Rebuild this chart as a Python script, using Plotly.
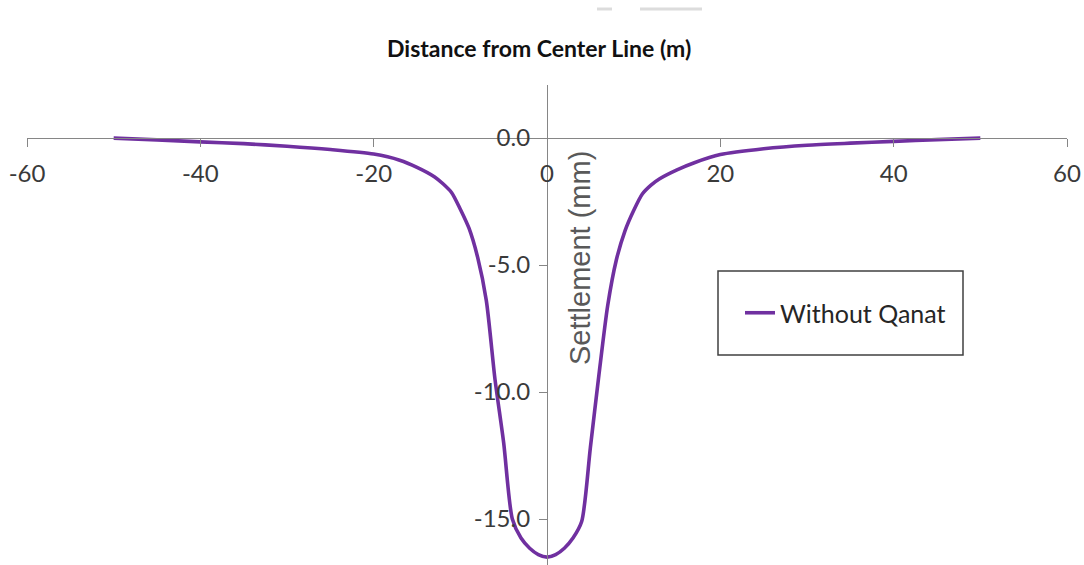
import plotly.graph_objects as go

# Surface settlement profile across the tunnel axis
distance = [-50, -45, -40, -35, -30, -25, -20, -17, -15, -13, -12, -11, -10, -9, -8, -7, -6, -5, -4, -3, -2, -1, 0,
            1, 2, 3, 4, 5, 6, 7, 8, 9, 10, 11, 12, 13, 15, 17, 20, 25, 30, 35, 40, 45, 50]
settlement = [0.0, -0.07, -0.15, -0.22, -0.32, -0.45, -0.63, -0.87, -1.15, -1.52, -1.8, -2.15, -2.8, -3.55,
              -4.7, -6.4, -9.5, -12.0, -15.0, -15.75, -16.15, -16.4, -16.5,
              -16.4, -16.15, -15.75, -15.1, -12.2, -9.3, -6.6, -4.8, -3.65, -2.85, -2.2, -1.85, -1.6,
              -1.25, -0.97, -0.65, -0.42, -0.28, -0.2, -0.13, -0.06, 0.0]
series_name = "Without Qanat"

x_ticks = [-60, -40, -20, 0, 20, 40, 60]
x_tick_text = ["-60", "-40", "-20", "0", "20", "40", "60"]
y_ticks = [0, -5, -10, -15]
y_tick_text = ["0.0", "-5.0", "-10.0", "-15.0"]

X_RANGE = [-60, 60]
Y_RANGE = [-16.81, 2.09]

W, H = 1084, 565
M_L, M_R, M_T, M_B = 27, 17, 85, 0
PW, PH = W - M_L - M_R, H - M_T - M_B


def px_x(px):
    return (px - M_L) / PW


def px_y(py):
    return (H - M_B - py) / PH


AXIS = "#868686"
TICK_FONT = dict(family="Lato", size=24, color="#3a3a3a")

fig = go.Figure()
fig.add_trace(go.Scatter(
    x=distance, y=settlement, mode="lines", name=series_name,
    line=dict(color="#7030A0", width=3.6, shape="spline", smoothing=0.7),
))

x_pos = (0 - Y_RANGE[0]) / (Y_RANGE[1] - Y_RANGE[0])
y_pos = (0 - X_RANGE[0]) / (X_RANGE[1] - X_RANGE[0])

fig.update_layout(
    width=W, height=H,
    margin=dict(l=M_L, r=M_R, t=M_T, b=M_B),
    paper_bgcolor="white", plot_bgcolor="white",
    xaxis=dict(
        range=X_RANGE, domain=[0, 1], anchor="free", position=x_pos,
        tickmode="array", tickvals=x_ticks, ticktext=x_tick_text,
        showline=True, linecolor=AXIS, linewidth=1.2,
        ticks="outside", ticklen=8, tickcolor=AXIS, tickwidth=1.2,
        ticklabelstandoff=6,
        showgrid=False, zeroline=False, tickfont=TICK_FONT,
    ),
    yaxis=dict(
        range=Y_RANGE, domain=[0, 1], anchor="free", position=y_pos,
        tickmode="array", tickvals=y_ticks, ticktext=y_tick_text,
        showline=True, linecolor=AXIS, linewidth=1.2,
        ticks="outside", ticklen=8, tickcolor=AXIS, tickwidth=1.2,
        ticklabelstandoff=4,
        showgrid=False, zeroline=False, tickfont=TICK_FONT,
    ),
    showlegend=True,
    legend=dict(
        x=px_x(740), y=px_y(313), xanchor="left", yanchor="middle",
        bgcolor="rgba(0,0,0,0)", borderwidth=0,
        font=dict(family="Lato", size=25, color="#262626"),
        itemwidth=30,
    ),
    annotations=[
        dict(text="<b>Distance from Center Line (m)</b>", xref="paper", yref="paper",
             x=px_x(539), y=px_y(48), xanchor="center", yanchor="middle", showarrow=False,
             font=dict(family="Lato", size=23, color="#111111")),
        dict(text="Settlement (mm)", xref="paper", yref="paper",
             x=px_x(580), y=px_y(258), xanchor="center", yanchor="middle", showarrow=False,
             textangle=-90, font=dict(family="Liberation Sans", size=29, color="#595959")),
    ],
    shapes=[
        dict(type="rect", xref="paper", yref="paper",
             x0=px_x(718), x1=px_x(963), y0=px_y(355), y1=px_y(271),
             line=dict(color="#404040", width=1.5), fillcolor="rgba(0,0,0,0)"),
        dict(type="line", xref="paper", yref="paper",
             x0=px_x(597), x1=px_x(612), y0=px_y(9), y1=px_y(9),
             line=dict(color="#dcdcdc", width=3)),
        dict(type="line", xref="paper", yref="paper",
             x0=px_x(640), x1=px_x(702), y0=px_y(9), y1=px_y(9),
             line=dict(color="#dcdcdc", width=3)),
    ],
)

fig.write_html("out.html")
